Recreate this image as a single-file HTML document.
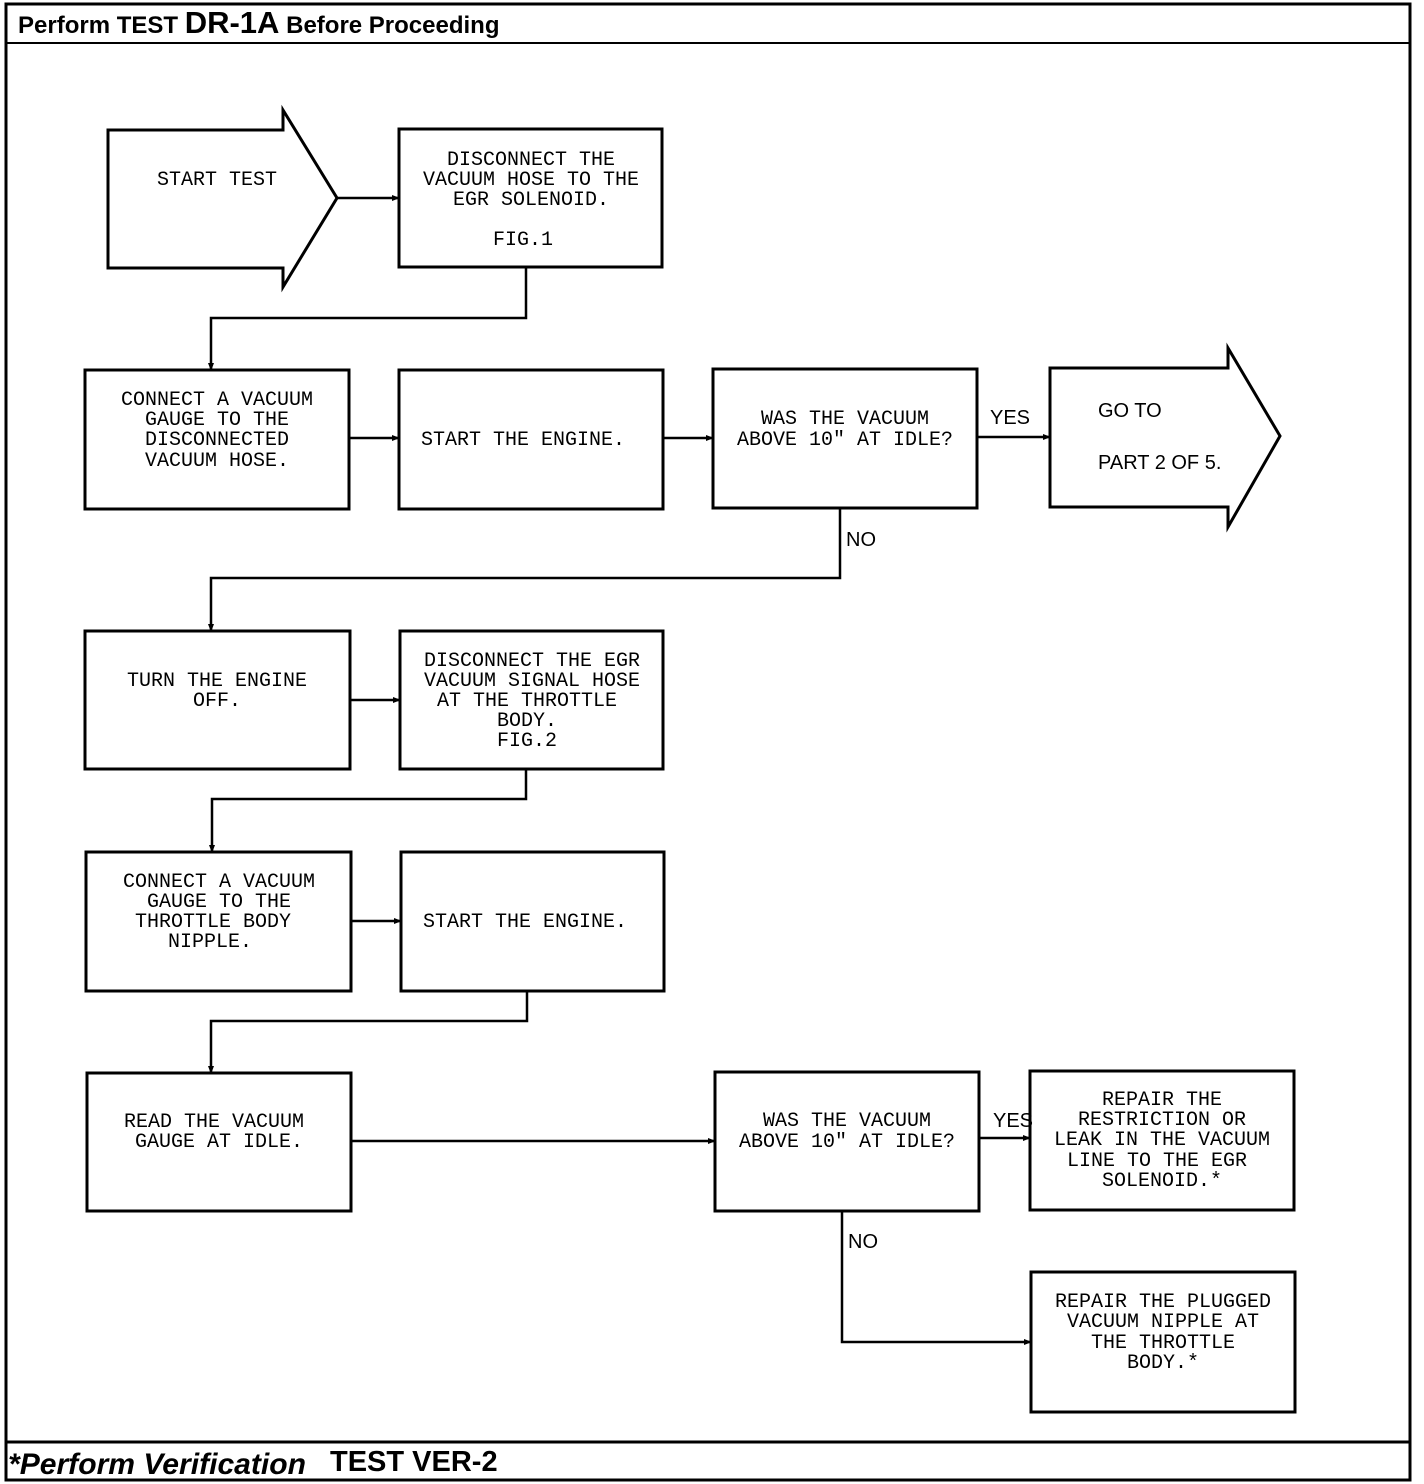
<!DOCTYPE html>
<html><head><meta charset="utf-8"><style>
html,body{margin:0;padding:0;background:#fff;}
svg{display:block;}
.t{font-family:"Liberation Mono",monospace;font-size:20px;fill:#000;text-anchor:middle;}
.s{font-family:"Liberation Sans",sans-serif;font-size:20px;fill:#000;}
</style></head><body>
<svg width="1424" height="1484" viewBox="0 0 1424 1484" xmlns="http://www.w3.org/2000/svg">
<defs><marker id="a" markerWidth="8" markerHeight="8" refX="7" refY="4" orient="auto" markerUnits="userSpaceOnUse"><path d="M0,1 L8,4 L0,7 z" fill="#000"/></marker></defs>
<rect x="6" y="4" width="1404" height="1476" fill="none" stroke="#000" stroke-width="3"/>
<line x1="6" y1="43" x2="1410" y2="43" stroke="#000" stroke-width="2"/>
<line x1="6" y1="1442" x2="1410" y2="1442" stroke="#000" stroke-width="3"/>
<text x="18" y="33" style="font-family:'Liberation Sans',sans-serif;font-weight:bold;font-size:24px">Perform TEST <tspan font-size="31">DR-1A</tspan> Before Proceeding</text>
<text x="8" y="1474" style="font-family:'Liberation Sans',sans-serif;font-weight:bold;font-style:italic;font-size:30px" textLength="298" lengthAdjust="spacingAndGlyphs">*Perform Verification</text>
<text x="330" y="1471" style="font-family:'Liberation Sans',sans-serif;font-weight:bold;font-size:29px">TEST VER-2</text>
<g fill="none" stroke="#000" stroke-width="3">
<path d="M108,130 L283,130 L283,110 L337,198 L283,287 L283,268 L108,268 Z"/>
<path d="M1050,368 L1228,368 L1228,348 L1280,436 L1228,527 L1228,507 L1050,507 Z"/>
<rect x="399" y="129" width="263" height="138"/>
<rect x="85" y="370" width="264" height="139"/>
<rect x="399" y="370" width="264" height="139"/>
<rect x="713" y="369" width="264" height="139"/>
<rect x="85" y="631" width="265" height="138"/>
<rect x="400" y="631" width="263" height="138"/>
<rect x="86" y="852" width="265" height="139"/>
<rect x="401" y="852" width="263" height="139"/>
<rect x="87" y="1073" width="264" height="138"/>
<rect x="715" y="1072" width="264" height="139"/>
<rect x="1030" y="1071" width="264" height="139"/>
<rect x="1031" y="1272" width="264" height="140"/>
</g>
<g fill="none" stroke="#000" stroke-width="2.5">
<path d="M337,198 L399,198" marker-end="url(#a)"/>
<path d="M526,267 L526,318 L211,318 L211,370" marker-end="url(#a)"/>
<path d="M349,438 L399,438" marker-end="url(#a)"/>
<path d="M663,438 L713,438" marker-end="url(#a)"/>
<path d="M977,437 L1050,437" marker-end="url(#a)"/>
<path d="M840,508 L840,578 L211,578 L211,631" marker-end="url(#a)"/>
<path d="M350,700 L400,700" marker-end="url(#a)"/>
<path d="M526,769 L526,799 L212,799 L212,852" marker-end="url(#a)"/>
<path d="M351,921 L401,921" marker-end="url(#a)"/>
<path d="M527,991 L527,1021 L211,1021 L211,1073" marker-end="url(#a)"/>
<path d="M351,1141 L715,1141" marker-end="url(#a)"/>
<path d="M979,1138 L1030,1138" marker-end="url(#a)"/>
<path d="M842,1211 L842,1342 L1031,1342" marker-end="url(#a)"/>
</g>
<text class="t" x="217" y="185">START TEST</text>
<text class="t" x="531" y="165">DISCONNECT THE</text>
<text class="t" x="531" y="185">VACUUM HOSE TO THE</text>
<text class="t" x="531" y="205">EGR SOLENOID.</text>
<text class="t" x="523" y="245">FIG.1</text>
<text class="t" x="217" y="405">CONNECT A VACUUM</text>
<text class="t" x="217" y="425">GAUGE TO THE</text>
<text class="t" x="217" y="445">DISCONNECTED</text>
<text class="t" x="217" y="466">VACUUM HOSE.</text>
<text class="t" x="523" y="445">START THE ENGINE.</text>
<text class="t" x="845" y="424">WAS THE VACUUM</text>
<text class="t" x="845" y="445">ABOVE 10" AT IDLE?</text>
<text class="s" x="990" y="424">YES</text>
<text class="s" x="1098" y="417">GO TO</text>
<text class="s" x="1098" y="469">PART 2 OF 5.</text>
<text class="s" x="846" y="546" font-size="18">NO</text>
<text class="t" x="217" y="686">TURN THE ENGINE</text>
<text class="t" x="217" y="706">OFF.</text>
<text class="t" x="532" y="666">DISCONNECT THE EGR</text>
<text class="t" x="532" y="686">VACUUM SIGNAL HOSE</text>
<text class="t" x="527" y="706">AT THE THROTTLE</text>
<text class="t" x="527" y="726">BODY.</text>
<text class="t" x="527" y="746">FIG.2</text>
<text class="t" x="219" y="887">CONNECT A VACUUM</text>
<text class="t" x="219" y="907">GAUGE TO THE</text>
<text class="t" x="213" y="927">THROTTLE BODY</text>
<text class="t" x="210" y="947">NIPPLE.</text>
<text class="t" x="525" y="927">START THE ENGINE.</text>
<text class="t" x="214" y="1127">READ THE VACUUM</text>
<text class="t" x="219" y="1147">GAUGE AT IDLE.</text>
<text class="t" x="847" y="1126">WAS THE VACUUM</text>
<text class="t" x="847" y="1147">ABOVE 10" AT IDLE?</text>
<text class="s" x="993" y="1127">YES</text>
<text class="s" x="848" y="1248" font-size="18">NO</text>
<text class="t" x="1162" y="1105">REPAIR THE</text>
<text class="t" x="1162" y="1125">RESTRICTION OR</text>
<text class="t" x="1162" y="1145">LEAK IN THE VACUUM</text>
<text class="t" x="1157" y="1166">LINE TO THE EGR</text>
<text class="t" x="1162" y="1186">SOLENOID.*</text>
<text class="t" x="1163" y="1307">REPAIR THE PLUGGED</text>
<text class="t" x="1163" y="1327">VACUUM NIPPLE AT</text>
<text class="t" x="1163" y="1348">THE THROTTLE</text>
<text class="t" x="1163" y="1368">BODY.*</text>
</svg>
</body></html>
